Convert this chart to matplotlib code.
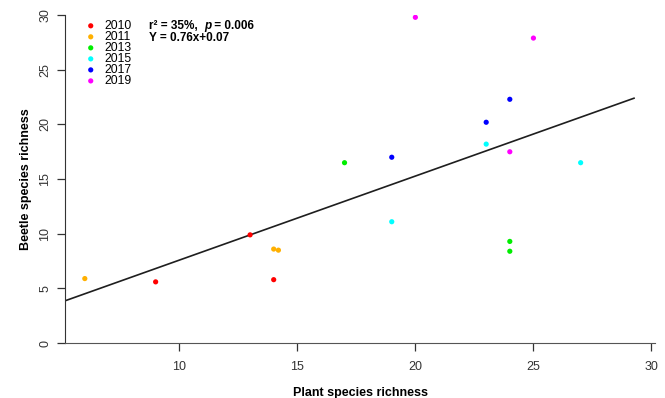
import numpy as np
import matplotlib
matplotlib.use("Agg")
import matplotlib.pyplot as plt

plt.rcParams["font.family"] = ["Liberation Sans", "DejaVu Sans"]

# data
years = ["2010", "2011", "2013", "2015", "2017", "2019"]
colors = ["#ff0000", "#ffb000", "#00ee00", "#00ffff", "#0000ff", "#ff00ff"]
plant_2010 = [13, 9, 14]
beetle_2010 = [9.9, 5.6, 5.8]
plant_2011 = [6, 14, 14.2]
beetle_2011 = [5.9, 8.6, 8.5]
plant_2013 = [17, 24, 24]
beetle_2013 = [16.5, 9.3, 8.4]
plant_2015 = [23, 19, 27]
beetle_2015 = [18.2, 11.1, 16.5]
plant_2017 = [24, 23, 19]
beetle_2017 = [22.3, 20.2, 17.0]
plant_2019 = [20, 25, 24]
beetle_2019 = [29.8, 27.9, 17.5]

plant = [plant_2010, plant_2011, plant_2013, plant_2015, plant_2017, plant_2019]
beetle = [beetle_2010, beetle_2011, beetle_2013, beetle_2015, beetle_2017, beetle_2019]
xticks = [10, 15, 20, 25, 30]
yticks = [0, 5, 10, 15, 20, 25, 30]

fig = plt.figure(figsize=(6.65, 3.98), dpi=100)
ax = fig.add_axes([0.0977, 0.138, 0.888, 0.824])
ax.set_xlim(5.16, 30.17)
ax.set_ylim(0, 30)

for yr, c, xs, ys in zip(years, colors, plant, beetle):
    ax.scatter(xs, ys, s=14, color=c, edgecolors="none", label=yr, zorder=3)

# least-squares line
allx = np.concatenate(plant)
ally = np.concatenate(beetle)
slope, icpt = np.polyfit(allx, ally, 1)
lx = np.array([5.16, 29.26])
ax.plot(lx, slope * lx + icpt, color="#1e1e1e", lw=1.2, zorder=2)

# axes styling (R-like)
for s in ["top", "right"]:
    ax.spines[s].set_visible(False)
ax.spines["left"].set_color("#333333")
ax.spines["bottom"].set_color("#555555")
ax.spines["left"].set_bounds(0, 30)
ax.set_xticks(xticks)
ax.set_yticks(yticks)
ax.tick_params(axis="both", direction="out", length=6, width=0.9,
               colors="#333333", labelsize=9, pad=7)
ax.tick_params(axis="y", pad=4)
for lab in ax.get_yticklabels():
    lab.set_rotation(90)
    lab.set_va("center")

ax.set_xlabel("Plant species richness", fontsize=9, weight="bold", labelpad=10)
ax.set_ylabel("Beetle species richness", fontsize=9, weight="bold", labelpad=5)

leg = ax.legend(loc="upper left", bbox_to_anchor=(0.025, 1.0), frameon=False,
                fontsize=8.8, handletextpad=0.65, labelspacing=-0.08,
                borderaxespad=0.0, handlelength=1.0, scatterpoints=1,
                markerscale=1.0)

# stats annotation
t1 = ax.text(8.72, 29.05, "r² = 35%,  ", fontsize=8.5, weight="bold",
             va="center", ha="left")
t2 = ax.annotate("p", xy=(1, 0), xycoords=t1, va="bottom", ha="left",
                 fontsize=8.5, weight="bold", style="italic")
ax.annotate(" = 0.006", xy=(1, 0), xycoords=t2, va="bottom", ha="left",
            fontsize=8.5, weight="bold")
ax.text(8.72, 27.95, "Y = 0.76x+0.07", fontsize=8.5, weight="bold",
        va="center", ha="left")

fig.savefig("out.png", dpi=100, facecolor="white")
